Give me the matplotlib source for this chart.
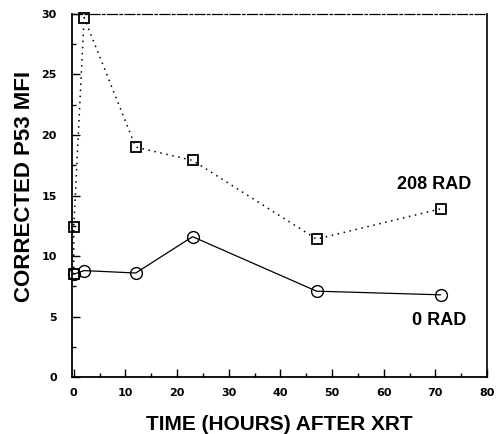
import matplotlib.pyplot as plt
from matplotlib.ticker import MultipleLocator

plt.rcParams['font.family'] = ['Liberation Sans', 'DejaVu Sans']
plt.rcParams['font.weight'] = 'bold'

# 0 RAD
hours_0 = [0, 2, 12, 23, 47, 71]
mfi_0 = [8.5, 8.8, 8.6, 11.6, 7.1, 6.8]

# 208 RAD
hours_208 = [0, 0, 2, 12, 23, 47, 71]
mfi_208 = [8.5, 12.4, 29.7, 19.0, 17.9, 11.4, 13.9]

fig = plt.figure(figsize=(4.98, 4.34), dpi=100)
ax = fig.add_axes([0.145, 0.131, 0.833, 0.837])

ax.plot(hours_208, mfi_208, color='black', linestyle=(0, (1, 3)), linewidth=1.1,
        marker='s', markersize=7.5, markerfacecolor='none', markeredgecolor='black',
        markeredgewidth=1.3, clip_on=False)
ax.plot(hours_0, mfi_0, color='black', linestyle='-', linewidth=0.9,
        marker='o', markersize=8.5, markerfacecolor='none', markeredgecolor='black',
        markeredgewidth=1.0, clip_on=False)

ax.text(69.8, 15.9, '208 RAD', fontsize=13, fontweight='bold', ha='center', va='center')
ax.text(70.8, 4.7, '0 RAD', fontsize=13, fontweight='bold', ha='center', va='center')

ax.set_xlim(-0.3, 80)
ax.set_ylim(0, 30)
ax.xaxis.set_major_locator(MultipleLocator(10))
ax.xaxis.set_minor_locator(MultipleLocator(5))
ax.yaxis.set_major_locator(MultipleLocator(5))
ax.yaxis.set_minor_locator(MultipleLocator(2.5))
ax.tick_params(which='both', direction='in', width=1.0)
ax.tick_params(which='major', length=6)
ax.tick_params(which='minor', length=3)
ax.tick_params(axis='y', pad=11)
ax.tick_params(axis='x', pad=8)
ax.tick_params(top=False, right=False)
for lab in ax.get_xticklabels() + ax.get_yticklabels():
    lab.set_fontfamily('DejaVu Sans')
    lab.set_fontweight('bold')
    lab.set_fontsize(8)

ax.spines['top'].set_linestyle((0, (8, 2, 2, 2)))
ax.spines['top'].set_linewidth(0.9)
ax.spines['right'].set_linewidth(1.2)
ax.spines['left'].set_linewidth(1.3)
ax.spines['bottom'].set_linewidth(1.3)

ax.set_xlabel('TIME (HOURS) AFTER XRT', fontsize=15, fontweight='bold')
ax.set_ylabel('CORRECTED P53 MFI', fontsize=16, fontweight='bold')
ax.xaxis.set_label_coords(0.5, -0.103)
ax.yaxis.set_label_coords(-0.089, 0.526)

fig.savefig('out.png', dpi=100)
